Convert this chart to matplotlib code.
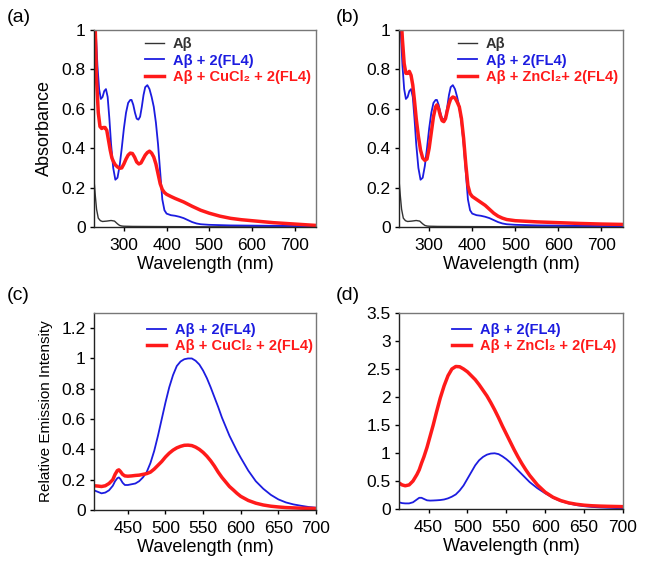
import matplotlib
matplotlib.use("Agg")
import matplotlib.pyplot as plt
from matplotlib.ticker import FuncFormatter

plt.rcParams['font.family'] = ['Liberation Sans', 'DejaVu Sans']

# --- absorbance data ---
blk_wl = [230, 233, 236, 240, 245, 250, 260, 270, 278, 285, 290, 295, 300, 320, 400, 500, 750]
blk_abs = [0.24, 0.16, 0.09, 0.045, 0.032, 0.028, 0.03, 0.033, 0.03, 0.016, 0.008, 0.005,
           0.004, 0.003, 0.002, 0.001, 0.001]

fl4_wl = [230, 234, 238, 242, 246, 250, 254, 258, 262, 266, 270, 275, 280, 285, 290, 295, 300,
          305, 310, 315, 318, 322, 326, 330, 334, 338, 342, 346, 350, 355, 360, 365, 370, 375,
          380, 385, 390, 395, 400, 410, 420, 430, 440, 450, 460, 470, 480, 500, 550, 600, 650,
          700, 750]
fl4_abs = [1.4, 1.0, 0.82, 0.70, 0.65, 0.66, 0.69, 0.70, 0.66, 0.55, 0.42, 0.30, 0.24, 0.25,
           0.31, 0.40, 0.50, 0.58, 0.63, 0.645, 0.645, 0.62, 0.58, 0.55, 0.545, 0.56, 0.61, 0.67,
           0.71, 0.72, 0.70, 0.66, 0.61, 0.53, 0.42, 0.28, 0.14, 0.085, 0.068, 0.06, 0.057,
           0.052, 0.045, 0.035, 0.025, 0.018, 0.014, 0.011, 0.008, 0.007, 0.006, 0.005, 0.004]

cu_wl = [230, 233, 236, 240, 244, 248, 252, 256, 260, 264, 268, 272, 276, 280, 285, 290, 295,
         300, 305, 310, 315, 320, 325, 330, 335, 340, 345, 350, 355, 360, 365, 370, 375, 380,
         385, 390, 395, 400, 410, 420, 440, 460, 480, 500, 525, 550, 575, 600, 650, 700, 750]
cu_abs = [1.4, 1.0, 0.75, 0.58, 0.51, 0.50, 0.505, 0.505, 0.49, 0.44, 0.39, 0.35, 0.33, 0.315,
          0.305, 0.298, 0.30, 0.32, 0.345, 0.365, 0.375, 0.373, 0.355, 0.33, 0.32, 0.325, 0.345,
          0.365, 0.378, 0.385, 0.375, 0.355, 0.32, 0.27, 0.22, 0.19, 0.175, 0.166, 0.155, 0.145,
          0.127, 0.105, 0.085, 0.07, 0.055, 0.044, 0.037, 0.032, 0.022, 0.015, 0.008]

zn_wl = fl4_wl
zn_abs = [1.4, 1.1, 0.95, 0.83, 0.78, 0.78, 0.79, 0.77, 0.72, 0.64, 0.55, 0.46, 0.39, 0.35,
          0.338, 0.345, 0.40, 0.48, 0.56, 0.61, 0.62, 0.60, 0.565, 0.54, 0.535, 0.55, 0.59,
          0.625, 0.65, 0.66, 0.655, 0.635, 0.61, 0.55, 0.45, 0.32, 0.21, 0.17, 0.155, 0.14,
          0.125, 0.11, 0.09, 0.07, 0.055, 0.045, 0.038, 0.032, 0.026, 0.022, 0.018, 0.015, 0.013]

# --- emission data ---
em_wl_c = [405, 410, 415, 420, 425, 430, 433, 436, 438, 440, 443, 446, 450, 455, 460, 465, 470,
           475, 480, 485, 490, 495, 500, 505, 510, 515, 520, 525, 530, 535, 540, 545, 550, 555,
           560, 565, 570, 575, 580, 585, 590, 595, 600, 610, 620, 630, 640, 650, 660, 670, 680,
           690, 700]
fl4_em_c = [0.13, 0.12, 0.11, 0.115, 0.13, 0.16, 0.19, 0.21, 0.215, 0.205, 0.18, 0.165, 0.165,
            0.17, 0.175, 0.19, 0.215, 0.25, 0.31, 0.39, 0.49, 0.6, 0.71, 0.81, 0.89, 0.95, 0.98,
            0.995, 1.0, 1.0, 0.985, 0.96, 0.92, 0.87, 0.81, 0.745, 0.68, 0.61, 0.55, 0.49, 0.44,
            0.39, 0.345, 0.26, 0.19, 0.14, 0.1, 0.07, 0.05, 0.037, 0.028, 0.02, 0.015]
cu_em_c = [0.16, 0.158, 0.155, 0.16, 0.175, 0.2, 0.235, 0.26, 0.265, 0.255, 0.235, 0.225, 0.223,
           0.225, 0.228, 0.23, 0.235, 0.24, 0.25, 0.27, 0.295, 0.32, 0.35, 0.375, 0.395, 0.41,
           0.42, 0.427, 0.428, 0.425, 0.415, 0.4, 0.38, 0.355, 0.325, 0.29, 0.25, 0.215, 0.185,
           0.155, 0.133, 0.11, 0.09, 0.063, 0.045, 0.033, 0.025, 0.02, 0.016, 0.014, 0.012,
           0.011, 0.01]

em_wl_d = [412, 416, 420, 425, 430, 435, 438, 441, 444, 448, 452, 456, 460, 465, 470, 475, 480,
           485, 490, 495, 500, 505, 510, 515, 520, 525, 530, 535, 540, 545, 550, 555, 560, 565,
           570, 575, 580, 590, 600, 610, 620, 630, 640, 650, 660, 670, 680, 690, 700]
fl4_em_d = [0.12, 0.105, 0.1, 0.1, 0.12, 0.17, 0.2, 0.2, 0.18, 0.155, 0.15, 0.152, 0.155, 0.16,
            0.17, 0.19, 0.22, 0.26, 0.33, 0.42, 0.54, 0.66, 0.78, 0.87, 0.93, 0.97, 0.99, 0.995,
            0.98, 0.94, 0.89, 0.83, 0.76, 0.69, 0.62, 0.55, 0.48, 0.37, 0.28, 0.2, 0.14, 0.1,
            0.07, 0.05, 0.037, 0.028, 0.022, 0.017, 0.013]
zn_em_d = [0.466, 0.43, 0.415, 0.43, 0.5, 0.615, 0.7, 0.82, 0.93, 1.1, 1.3, 1.5, 1.72, 1.98,
           2.2, 2.38, 2.5, 2.545, 2.54, 2.5, 2.45, 2.38, 2.31, 2.22, 2.12, 2.02, 1.9, 1.77, 1.63,
           1.48, 1.34, 1.2, 1.06, 0.93, 0.81, 0.7, 0.6, 0.43, 0.3, 0.21, 0.15, 0.11, 0.085,
           0.068, 0.058, 0.052, 0.048, 0.045, 0.042]

lab_ab = "A\u03b2"
lab_fl4 = "A\u03b2 + 2(FL4)"
lab_cu = "A\u03b2 + CuCl\u2082 + 2(FL4)"
lab_zn = "A\u03b2 + ZnCl\u2082+ 2(FL4)"
lab_zn2 = "A\u03b2 + ZnCl\u2082 + 2(FL4)"

BLUE = '#1c1ce0'
RED = '#ff1a1a'
BLK = '#333333'

fig = plt.figure(figsize=(6.45, 5.7), dpi=100)
W, H = 645.0, 570.0


def make_ax(l, t, r, b):
    return fig.add_axes([l / W, 1 - b / H, (r - l) / W, (b - t) / H])


ax_a = make_ax(94, 30, 316, 227)
ax_b = make_ax(399, 30, 623, 227)
ax_c = make_ax(94, 313, 316, 510)
ax_d = make_ax(399, 313, 623, 509)

fmt = FuncFormatter(lambda v, p: '{:g}'.format(round(v, 2)))


def style(ax):
    for s in ('left', 'bottom'):
        ax.spines[s].set_color('#222222')
    for s in ('top', 'right'):
        ax.spines[s].set_color('#777777')
    for s in ax.spines.values():
        s.set_linewidth(1.0)
    ax.tick_params(direction='out', length=3, width=1, labelsize=12.5, pad=3)
    ax.tick_params(axis='x', pad=5)
    ax.yaxis.set_major_formatter(fmt)
    ax.set_xlabel("Wavelength (nm)", fontsize=13, labelpad=2)


def legend(ax, x, y):
    leg = ax.legend(loc='upper left', bbox_to_anchor=(x, y), frameon=False, borderpad=0,
                    borderaxespad=0, handlelength=1.3, handletextpad=0.6, labelspacing=0.18,
                    prop={'weight': 'bold', 'size': 10.5}, labelcolor='linecolor')
    return leg


# (a)
ax_a.plot(blk_wl, blk_abs, color=BLK, lw=1.0, label=lab_ab)
ax_a.plot(fl4_wl, fl4_abs, color=BLUE, lw=1.3, label=lab_fl4)
ax_a.plot(cu_wl, cu_abs, color=RED, lw=2.5, label=lab_cu)
ax_a.set_xlim(230, 750)
ax_a.set_ylim(0, 1)
ax_a.set_xticks([300, 400, 500, 600, 700])
ax_a.set_yticks([0, 0.2, 0.4, 0.6, 0.8, 1])
ax_a.set_ylabel("Absorbance", fontsize=13, labelpad=6)
style(ax_a)
legend(ax_a, 0.23, 0.965)

# (b)
ax_b.plot(blk_wl, blk_abs, color=BLK, lw=1.0, label=lab_ab)
ax_b.plot(fl4_wl, fl4_abs, color=BLUE, lw=1.3, label=lab_fl4)
ax_b.plot(zn_wl, zn_abs, color=RED, lw=2.5, label=lab_zn)
ax_b.set_xlim(230, 750)
ax_b.set_ylim(0, 1)
ax_b.set_xticks([300, 400, 500, 600, 700])
ax_b.set_yticks([0, 0.2, 0.4, 0.6, 0.8, 1])
style(ax_b)
legend(ax_b, 0.265, 0.965)

# (c)
ax_c.plot(em_wl_c, fl4_em_c, color=BLUE, lw=1.3, label=lab_fl4)
ax_c.plot(em_wl_c, cu_em_c, color=RED, lw=2.5, label=lab_cu)
ax_c.set_xlim(405, 700)
ax_c.set_ylim(0, 1.3)
ax_c.set_xticks([450, 500, 550, 600, 650, 700])
ax_c.set_yticks([0, 0.2, 0.4, 0.6, 0.8, 1, 1.2])
ax_c.set_ylabel("Relative Emission Intensity", fontsize=11, labelpad=6)
style(ax_c)
legend(ax_c, 0.24, 0.95)

# (d)
ax_d.plot(em_wl_d, fl4_em_d, color=BLUE, lw=1.3, label=lab_fl4)
ax_d.plot(em_wl_d, zn_em_d, color=RED, lw=2.5, label=lab_zn2)
ax_d.set_xlim(412, 700)
ax_d.set_ylim(0, 3.5)
ax_d.set_xticks([450, 500, 550, 600, 650, 700])
ax_d.set_yticks([0, 0.5, 1, 1.5, 2, 2.5, 3, 3.5])
style(ax_d)
legend(ax_d, 0.238, 0.95)

for txt, x, y in [("(a)", 7, 17), ("(b)", 336, 17), ("(c)", 7, 296), ("(d)", 336, 296)]:
    fig.text(x / W, 1 - y / H, txt, fontsize=14, ha='left', va='center')

fig.savefig("out.png", dpi=100)
